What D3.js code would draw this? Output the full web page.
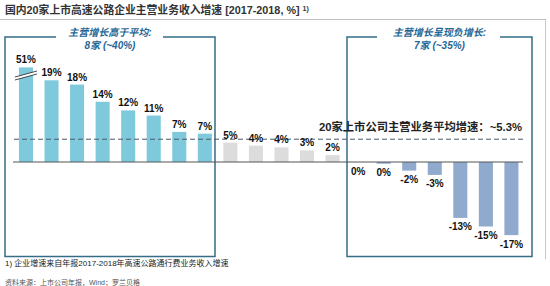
<!DOCTYPE html>
<html><head><meta charset="utf-8">
<script src="https://cdn.jsdelivr.net/npm/d3@7"></script>
<style>
html,body{margin:0;padding:0;background:#fff;}
svg{display:block;font-family:"Liberation Sans",Arial,"Noto Sans CJK SC",sans-serif;}
</style></head><body>
<svg id="chart" width="550" height="286"></svg>
<script>
// ---- data ----
const categories = d3.range(1, 21).map(i => "企业" + i);
const values = [51, 19, 18, 14, 12, 10.8, 7, 6.6, 4.5, 3.8, 3.4, 2.7, 1.6, 0, -0.4, -2, -3, -13, -15, -17];
const valueLabels = ["51%","19%","18%","14%","12%","11%","7%","7%","5%","4%","4%","3%","2%","0%","0%","-2%","-3%","-13%","-15%","-17%"];
const groups = ["above","above","above","above","above","above","above","above",
                "mid","mid","mid","mid","mid",
                "neg","neg","neg","neg","neg","neg","neg"];
const averageValue = 5.3;
const displayCap = 22;   // values above this are drawn truncated with a break mark
const breakValue = 20;
const title = "国内20家上市高速公路企业主营业务收入增速 [2017-2018, %]";
const titleNote = "1)";
const averageLabel = "20家上市公司主营业务平均增速：~5.3%";
const boxAboveTitle = ["主营增长高于平均:", "8家 (~40%)"];
const boxNegTitle = ["主营增长呈现负增长:", "7家 (~35%)"];
const footnote = "1) 企业增速来自年报2017-2018年高速公路通行费业务收入增速";
const source = "资料来源：上市公司年报，Wind；罗兰贝格";

const colors = {above: "#7fc9dd", mid: "#dcdcdc", neg: "#90aacd"};

// ---- scales ----
const svg = d3.select("#chart");
const x = d3.scaleBand().domain(categories).range([13.2, 524.2]).paddingInner(0.45).paddingOuter(0.225);
const y = d3.scaleLinear().domain([-20, 25]).range([248, 54.5]);

// ---- title ----
const t = svg.append("text").attr("x", 5).attr("y", 14)
  .attr("font-size", 10.8).attr("font-weight", "bold").attr("fill", "#333").text(title);
t.append("tspan").attr("dx", 3).attr("dy", -3).attr("font-size", 7).text(titleNote);
svg.append("line").attr("x1", 0).attr("x2", 546).attr("y1", 19.5).attr("y2", 19.5)
  .attr("stroke", "#bdbdbd").attr("stroke-width", 1);
svg.append("line").attr("x1", 545.5).attr("x2", 545.5).attr("y1", 20).attr("y2", 259)
  .attr("stroke", "#c8c8c8").attr("stroke-width", 1);

// ---- group boxes ----
function groupBox(x0, x1, y0, y1, gapL, gapR, lines) {
  const g = svg.append("g");
  const stroke = "#356c86";
  g.append("path")
    .attr("d", `M${gapL},${y0} H${x0} V${y1} H${x1} V${y0} H${gapR}`)
    .attr("fill", "none").attr("stroke", stroke).attr("stroke-width", 1.5);
  const cx = (x0 + x1) / 2;
  g.selectAll("text").data(lines).join("text")
    .attr("x", cx).attr("y", (d, i) => 36 + i * 12.5)
    .attr("text-anchor", "middle").attr("font-size", 10).attr("font-style", "italic")
    .attr("font-weight", 600)
    .attr("fill", "#1f6796").text(d => d);
}
groupBox(5, 215, 37, 256.5, 56, 163, boxAboveTitle);
groupBox(347, 532, 37, 256.5, 377, 500, boxNegTitle);

// ---- bars ----
const bars = svg.append("g");
bars.selectAll("rect").data(values).join("rect")
  .attr("x", (d, i) => x(categories[i]))
  .attr("width", x.bandwidth())
  .attr("y", d => y(Math.min(Math.max(d, 0), displayCap)))
  .attr("height", d => Math.abs(y(Math.min(d, displayCap)) - y(0)))
  .attr("fill", (d, i) => colors[groups[i]]);

// break mark on truncated bar
values.forEach((d, i) => {
  if (d > displayCap) {
    const x0 = x(categories[i]) - 4, x1 = x(categories[i]) + x.bandwidth() + 4;
    const yb = y(breakValue);
    svg.append("path")
      .attr("d", `M${x0},${yb + 4} L${x1},${yb - 2} L${x1},${yb - 5} L${x0},${yb + 1} Z`)
      .attr("fill", "#fff");
    [0, -3].forEach(off => {
      svg.append("line").attr("x1", x0).attr("y1", yb + 4 + off).attr("x2", x1).attr("y2", yb - 2 + off)
        .attr("stroke", "#333").attr("stroke-width", 0.9);
    });
  }
});

// ---- baseline ----
svg.append("line").attr("x1", 13).attr("x2", 523).attr("y1", y(0)).attr("y2", y(0))
  .attr("stroke", "#555").attr("stroke-width", 1);

// ---- average line ----
svg.append("line").attr("x1", 14).attr("x2", 523).attr("y1", y(averageValue)).attr("y2", y(averageValue))
  .attr("stroke", "#4a5866").attr("stroke-width", 1).attr("stroke-dasharray", "5,3");
svg.append("text").attr("x", 522).attr("y", y(averageValue) - 8)
  .attr("text-anchor", "end").attr("font-size", 11.3).attr("font-weight", "bold")
  .attr("fill", "#222").text(averageLabel);

// ---- value labels ----
svg.append("g").selectAll("text").data(values).join("text")
  .attr("x", (d, i) => x(categories[i]) + x.bandwidth() / 2)
  .attr("y", (d, i) => groups[i] !== "neg" ? y(Math.min(d, displayCap)) - 4 : y(Math.min(d, 0)) + 12.5)
  .attr("text-anchor", "middle").attr("font-size", 10).attr("font-weight", "bold")
  .attr("fill", "#111").text((d, i) => valueLabels[i]);

// ---- footnotes ----
svg.append("text").attr("x", 5).attr("y", 266).attr("font-size", 8).attr("fill", "#222").text(footnote);
svg.append("text").attr("x", 5).attr("y", 285).attr("font-size", 7).attr("fill", "#555").text(source);
</script>
</body></html>
